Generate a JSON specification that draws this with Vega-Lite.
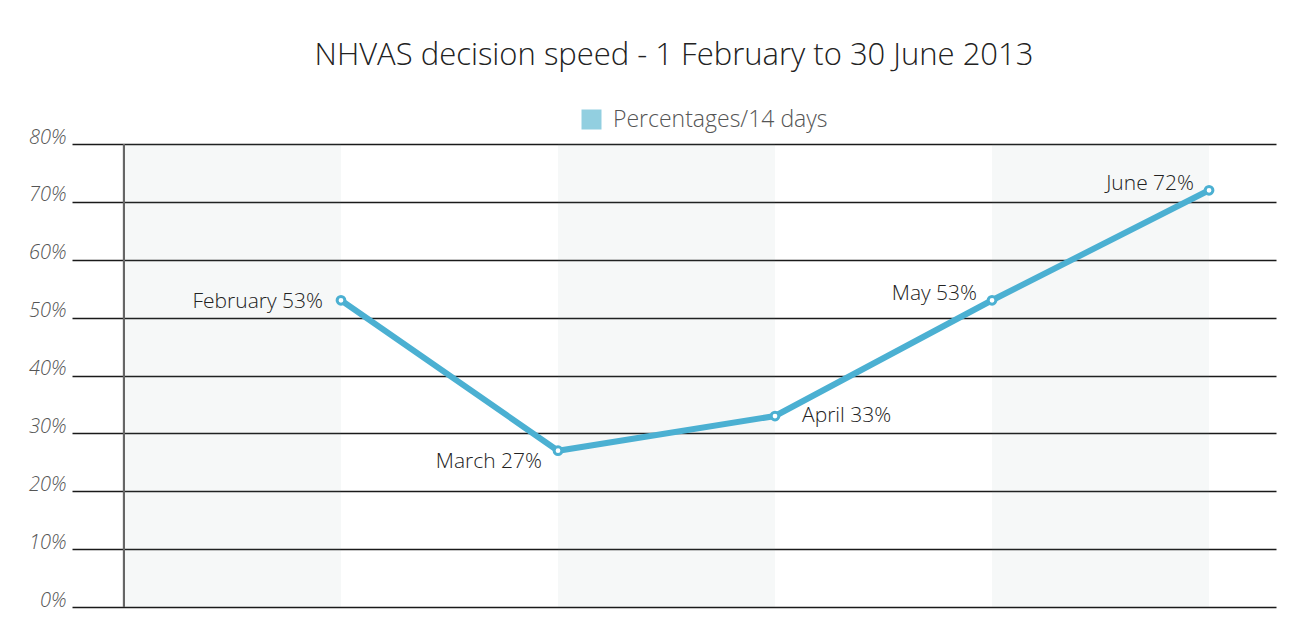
{
  "$schema": "https://vega.github.io/schema/vega-lite/v6.json",
  "autosize": {"type": "none"},
  "padding": {"left": 72, "top": 144, "right": 38, "bottom": 24},
  "width": 1204,
  "height": 463,
  "background": "white",
  "config": {"view": {"stroke": null}, "font": "Open Sans"},
  "title": {
    "text": "NHVAS decision speed - 1 February to 30 June 2013",
    "anchor": "middle",
    "frame": "group",
    "fontSize": 31,
    "fontWeight": 300,
    "color": "#222222",
    "offset": 36
  },
  "data": {
    "values": [
      {"month": "February", "value": 53},
      {"month": "March", "value": 27},
      {"month": "April", "value": 33},
      {"month": "May", "value": 53},
      {"month": "June", "value": 72}
    ]
  },
  "transform": [
    {"calculate": "datum.month + ' ' + datum.value + '%'", "as": "label"}
  ],
  "encoding": {
    "x": {
      "field": "month",
      "type": "nominal",
      "scale": {"type": "band", "domain": ["February", "March", "April", "May", "June"], "paddingInner": 0, "paddingOuter": 0.274, "align": 0.437},
      "axis": null
    }
  },
  "layer": [
    {
      "transform": [{"filter": "indexof(['February','April','June'], datum.month) >= 0"}],
      "mark": {"type": "bar", "color": "#7f9a9a", "opacity": 0.065},
      "encoding": {
        "y": {"datum": 80, "type": "quantitative", "scale": {"domain": [0, 80], "nice": false},
          "axis": {
            "values": [0, 10, 20, 30, 40, 50, 60, 70, 80],
            "labelExpr": "datum.value + '%'",
            "grid": true,
            "gridColor": "#1a1a1a",
            "gridWidth": 1.5,
            "domain": false,
            "ticks": false,
            "title": null,
            "labelFontSize": 20,
            "labelFontStyle": "italic",
            "labelFontWeight": 300,
            "labelColor": "#555555",
            "labelPadding": 6,
            "labelOffset": -7
          }},
        "y2": {"datum": 0}
      }
    },
    {
      "mark": {"type": "rule", "color": "#666666", "strokeWidth": 2},
      "encoding": {"x": {"datum": "February", "bandPosition": 0}}
    },
    {
      "mark": {"type": "line", "strokeWidth": 6},
      "encoding": {
        "x": {"field": "month", "type": "nominal", "bandPosition": 1},
        "y": {"field": "value", "type": "quantitative"},
        "color": {
          "datum": "Percentages/14 days",
          "scale": {"range": ["#4bb0d2"]},
          "legend": {
            "title": null,
            "orient": "none",
            "legendX": 508,
            "legendY": -36,
            "symbolType": "square",
            "symbolSize": 400,
            "symbolFillColor": "#92cfe0",
            "symbolStrokeWidth": 0,
            "labelFontSize": 23,
            "labelFontWeight": 300,
            "labelColor": "#555555",
            "labelOffset": 10,
            "labelLimit": 400
          }
        }
      }
    },
    {
      "mark": {"type": "point", "filled": false, "fill": "white", "stroke": "#4bb0d2", "strokeWidth": 3, "size": 60, "opacity": 1},
      "encoding": {
        "x": {"field": "month", "type": "nominal", "bandPosition": 1},
        "y": {"field": "value", "type": "quantitative"}
      }
    },
    {
      "transform": [{"filter": "datum.month == 'February'"}],
      "mark": {"type": "text", "align": "right", "baseline": "middle", "dx": -18, "dy": 2, "fontSize": 21, "fontWeight": 300, "color": "#222222"},
      "encoding": {
        "x": {"field": "month", "type": "nominal", "bandPosition": 1},
        "y": {"field": "value", "type": "quantitative"},
        "text": {"field": "label"}
      }
    },
    {
      "transform": [{"filter": "datum.month == 'March'"}],
      "mark": {"type": "text", "align": "right", "baseline": "middle", "dx": -16, "dy": 11, "fontSize": 21, "fontWeight": 300, "color": "#222222"},
      "encoding": {
        "x": {"field": "month", "type": "nominal", "bandPosition": 1},
        "y": {"field": "value", "type": "quantitative"},
        "text": {"field": "label"}
      }
    },
    {
      "transform": [{"filter": "datum.month == 'April'"}],
      "mark": {"type": "text", "align": "left", "baseline": "middle", "dx": 27, "dy": 0, "fontSize": 21, "fontWeight": 300, "color": "#222222"},
      "encoding": {
        "x": {"field": "month", "type": "nominal", "bandPosition": 1},
        "y": {"field": "value", "type": "quantitative"},
        "text": {"field": "label"}
      }
    },
    {
      "transform": [{"filter": "datum.month == 'May' || datum.month == 'June'"}],
      "mark": {"type": "text", "align": "right", "baseline": "middle", "dx": -15, "dy": -6, "fontSize": 21, "fontWeight": 300, "color": "#222222"},
      "encoding": {
        "x": {"field": "month", "type": "nominal", "bandPosition": 1},
        "y": {"field": "value", "type": "quantitative"},
        "text": {"field": "label"}
      }
    }
  ]
}
